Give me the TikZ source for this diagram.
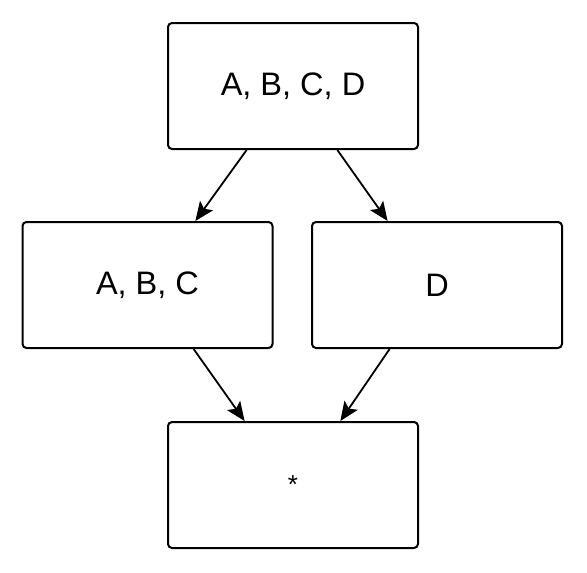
\documentclass[tikz,border=0pt]{standalone}
\usepackage{fontspec}
\setmainfont{Liberation Sans}
\usetikzlibrary{calc,arrows.meta}
\begin{document}
\begin{tikzpicture}[x=1pt,y=-1pt,
  box/.style={draw=black,line width=2pt,rounded corners=4pt,minimum width=250pt,minimum height=126pt,inner sep=0pt,font=\fontsize{32.5}{38}\selectfont},
  conn/.style={line width=1.8pt,-{Stealth[length=19pt,width=16pt,inset=4pt]}}]
\useasboundingbox (0,0) rectangle (587,573);
\node[box] (top) at (293,86) {A, B, C, D};
\node[box] (ml) at (147.5,285) {A, B, C};
\node[box] (mr) at (437,285) {D};
\node[box] (bot) at (293,485) {};
\node[font=\fontsize{26}{30}\selectfont,inner sep=0pt] (star) at (293,485) {*};
\draw[conn] ($(top.south west)!0.316!(top.south east)$) -- ($(ml.north west)!0.69!(ml.north east)$);
\draw[conn] ($(top.south west)!0.676!(top.south east)$) -- ($(mr.north west)!0.304!(mr.north east)$);
\draw[conn] ($(ml.south west)!0.683!(ml.south east)$) -- ($(bot.north west)!0.308!(bot.north east)$);
\draw[conn] ($(mr.south west)!0.312!(mr.south east)$) -- ($(bot.north west)!0.688!(bot.north east)$);
\end{tikzpicture}
\end{document}
